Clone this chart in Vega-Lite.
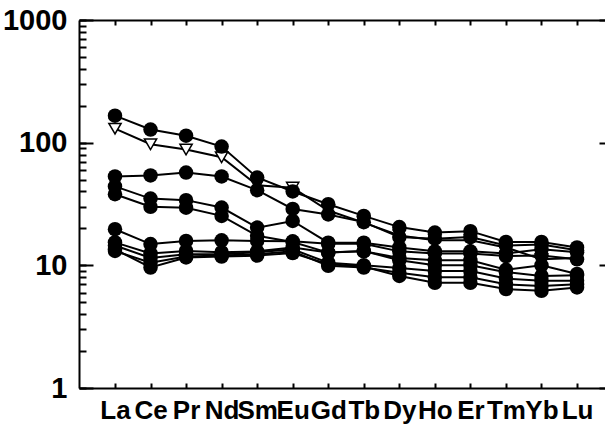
{
  "$schema": "https://vega.github.io/schema/vega-lite/v6.json",
  "width": 526,
  "height": 368,
  "autosize": {"type": "none"},
  "padding": {"left": 79, "top": 20, "right": 0, "bottom": 36},
  "background": "white",
  "config": {
    "view": {"stroke": null},
    "axis": {"tickColor": "black", "domainColor": "black", "tickWidth": 2, "domainWidth": 2, "grid": false, "title": null, "labelColor": "black"}
  },
  "data": {"values": [
    {"s":"S1","e":"La","v":166},{"s":"S1","e":"Ce","v":128},{"s":"S1","e":"Pr","v":114},{"s":"S1","e":"Nd","v":93},{"s":"S1","e":"Sm","v":52},{"s":"S1","e":"Eu","v":40},{"s":"S1","e":"Gd","v":31.5},{"s":"S1","e":"Tb","v":25.3},{"s":"S1","e":"Dy","v":20.5},{"s":"S1","e":"Ho","v":18.5},{"s":"S1","e":"Er","v":19},{"s":"S1","e":"Tm","v":15.5},{"s":"S1","e":"Yb","v":15.5},{"s":"S1","e":"Lu","v":14},
    {"s":"S2","e":"La","v":130},{"s":"S2","e":"Ce","v":97},{"s":"S2","e":"Pr","v":88},{"s":"S2","e":"Nd","v":76},{"s":"S2","e":"Sm","v":45},{"s":"S2","e":"Eu","v":43},{"s":"S2","e":"Gd","v":28},{"s":"S2","e":"Tb","v":22.3},{"s":"S2","e":"Dy","v":17.5},{"s":"S2","e":"Ho","v":16},{"s":"S2","e":"Er","v":16},{"s":"S2","e":"Tm","v":14},{"s":"S2","e":"Yb","v":11.2},{"s":"S2","e":"Lu","v":11.5},
    {"s":"S3","e":"La","v":53},{"s":"S3","e":"Ce","v":54},{"s":"S3","e":"Pr","v":57},{"s":"S3","e":"Nd","v":53},{"s":"S3","e":"Sm","v":41},{"s":"S3","e":"Eu","v":28.8},{"s":"S3","e":"Gd","v":26},{"s":"S3","e":"Tb","v":22.5},{"s":"S3","e":"Dy","v":17},{"s":"S3","e":"Ho","v":16.5},{"s":"S3","e":"Er","v":17},{"s":"S3","e":"Tm","v":14.5},{"s":"S3","e":"Yb","v":14.8},{"s":"S3","e":"Lu","v":13.3},
    {"s":"S4","e":"La","v":44},{"s":"S4","e":"Ce","v":35},{"s":"S4","e":"Pr","v":34},{"s":"S4","e":"Nd","v":29.6},{"s":"S4","e":"Sm","v":20.3},{"s":"S4","e":"Eu","v":23},{"s":"S4","e":"Gd","v":15.3},{"s":"S4","e":"Tb","v":15.3},{"s":"S4","e":"Dy","v":14},{"s":"S4","e":"Ho","v":13},{"s":"S4","e":"Er","v":13},{"s":"S4","e":"Tm","v":12.5},{"s":"S4","e":"Yb","v":13.5},{"s":"S4","e":"Lu","v":12.8},
    {"s":"S5","e":"La","v":38},{"s":"S5","e":"Ce","v":30},{"s":"S5","e":"Pr","v":29.5},{"s":"S5","e":"Nd","v":25.3},{"s":"S5","e":"Sm","v":17.4},{"s":"S5","e":"Eu","v":15.5},{"s":"S5","e":"Gd","v":12.7},{"s":"S5","e":"Tb","v":13},{"s":"S5","e":"Dy","v":11.5},{"s":"S5","e":"Ho","v":11},{"s":"S5","e":"Er","v":11},{"s":"S5","e":"Tm","v":9.2},{"s":"S5","e":"Yb","v":10},{"s":"S5","e":"Lu","v":8.5},
    {"s":"S6","e":"La","v":19.7},{"s":"S6","e":"Ce","v":14.9},{"s":"S6","e":"Pr","v":15.8},{"s":"S6","e":"Nd","v":16},{"s":"S6","e":"Sm","v":15.8},{"s":"S6","e":"Eu","v":15.7},{"s":"S6","e":"Gd","v":15},{"s":"S6","e":"Tb","v":15},{"s":"S6","e":"Dy","v":13},{"s":"S6","e":"Ho","v":12.5},{"s":"S6","e":"Er","v":12.5},{"s":"S6","e":"Tm","v":11.9},{"s":"S6","e":"Yb","v":12},{"s":"S6","e":"Lu","v":11.2},
    {"s":"S7","e":"La","v":15.4},{"s":"S7","e":"Ce","v":12.5},{"s":"S7","e":"Pr","v":13.1},{"s":"S7","e":"Nd","v":12.8},{"s":"S7","e":"Sm","v":13},{"s":"S7","e":"Eu","v":14},{"s":"S7","e":"Gd","v":12.7},{"s":"S7","e":"Tb","v":13.1},{"s":"S7","e":"Dy","v":11},{"s":"S7","e":"Ho","v":10},{"s":"S7","e":"Er","v":10},{"s":"S7","e":"Tm","v":8.8},{"s":"S7","e":"Yb","v":8.2},{"s":"S7","e":"Lu","v":8.3},
    {"s":"S8","e":"La","v":14.5},{"s":"S8","e":"Ce","v":11.5},{"s":"S8","e":"Pr","v":12.3},{"s":"S8","e":"Nd","v":12.3},{"s":"S8","e":"Sm","v":12.8},{"s":"S8","e":"Eu","v":13.5},{"s":"S8","e":"Gd","v":10.5},{"s":"S8","e":"Tb","v":10},{"s":"S8","e":"Dy","v":9.5},{"s":"S8","e":"Ho","v":9},{"s":"S8","e":"Er","v":9},{"s":"S8","e":"Tm","v":7.8},{"s":"S8","e":"Yb","v":7.5},{"s":"S8","e":"Lu","v":7.5},
    {"s":"S9","e":"La","v":13.1},{"s":"S9","e":"Ce","v":10.5},{"s":"S9","e":"Pr","v":11.8},{"s":"S9","e":"Nd","v":12},{"s":"S9","e":"Sm","v":12.3},{"s":"S9","e":"Eu","v":13},{"s":"S9","e":"Gd","v":9.9},{"s":"S9","e":"Tb","v":9.6},{"s":"S9","e":"Dy","v":8.7},{"s":"S9","e":"Ho","v":8},{"s":"S9","e":"Er","v":8},{"s":"S9","e":"Tm","v":7},{"s":"S9","e":"Yb","v":6.8},{"s":"S9","e":"Lu","v":7},
    {"s":"S10","e":"La","v":13.5},{"s":"S10","e":"Ce","v":9.6},{"s":"S10","e":"Pr","v":11.6},{"s":"S10","e":"Nd","v":11.8},{"s":"S10","e":"Sm","v":12},{"s":"S10","e":"Eu","v":12.6},{"s":"S10","e":"Gd","v":10.2},{"s":"S10","e":"Tb","v":9.8},{"s":"S10","e":"Dy","v":8.2},{"s":"S10","e":"Ho","v":7.2},{"s":"S10","e":"Er","v":7.2},{"s":"S10","e":"Tm","v":6.4},{"s":"S10","e":"Yb","v":6.2},{"s":"S10","e":"Lu","v":6.6}
  ]},
  "encoding": {
    "x": {"field": "e", "type": "nominal", "sort": ["La","Ce","Pr","Nd","Sm","Eu","Gd","Tb","Dy","Ho","Er","Tm","Yb","Lu"], "scale": {"type": "point", "padding": 0.9, "align": 0.5625}},
    "y": {"field": "v", "type": "quantitative", "scale": {"type": "log", "domain": [1, 1000], "nice": false}}
  },
  "layer": [
    {
      "mark": {"type": "line", "color": "black", "strokeWidth": 2},
      "encoding": {
        "detail": {"field": "s"},
        "x": {"field": "e", "type": "nominal", "sort": ["La","Ce","Pr","Nd","Sm","Eu","Gd","Tb","Dy","Ho","Er","Tm","Yb","Lu"], "scale": {"type": "point", "padding": 0.9, "align": 0.5625},
          "axis": {"orient": "bottom", "tickSize": -5, "labelPadding": 14, "labelFont": "Liberation Sans Narrow, Liberation Sans", "labelFontWeight": "bold", "labelFontSize": 26, "labelAngle": 0, "labelOverlap": false, "labelBound": false, "labelFlush": false}},
        "y": {"field": "v", "type": "quantitative", "scale": {"type": "log", "domain": [1, 1000], "nice": false},
          "axis": {"orient": "left", "values": [1,2,3,4,5,6,7,8,9,10,20,30,40,50,60,70,80,90,100,200,300,400,500,600,700,800,900,1000], "tickSize": -7, "labels": false}}
      }
    },
    {
      "transform": [{"filter": "datum.s == 'S2'"}],
      "mark": {"type": "point", "shape": "triangle-down", "filled": true, "fill": "white", "stroke": "black", "strokeWidth": 1.5, "size": 150, "opacity": 1},
      "encoding": {
        "x": {"field": "e", "type": "nominal", "sort": ["La","Ce","Pr","Nd","Sm","Eu","Gd","Tb","Dy","Ho","Er","Tm","Yb","Lu"], "scale": {"type": "point", "padding": 0.9, "align": 0.5625}, "axis": null},
        "y": {"field": "v", "type": "quantitative", "scale": {"type": "log", "domain": [1, 1000], "nice": false},
          "axis": {"orient": "right", "values": [1, 10, 100, 1000], "tickSize": -6, "domain": false, "labels": false}}
      }
    },
    {
      "transform": [{"filter": "datum.s != 'S2'"}],
      "mark": {"type": "point", "shape": "circle", "filled": true, "color": "black", "size": 210, "opacity": 1},
      "encoding": {
        "x": {"field": "e", "type": "nominal", "sort": ["La","Ce","Pr","Nd","Sm","Eu","Gd","Tb","Dy","Ho","Er","Tm","Yb","Lu"], "scale": {"type": "point", "padding": 0.9, "align": 0.5625},
          "axis": {"orient": "top", "tickSize": -5, "labels": false}},
        "y": {"field": "v", "type": "quantitative", "scale": {"type": "log", "domain": [1, 1000], "nice": false},
          "axis": {"orient": "left", "values": [1, 10, 100, 1000], "tickSize": -14, "domain": false, "labelPadding": 26, "labelFont": "Liberation Sans", "labelFontWeight": "bold", "labelFontSize": 29, "labelOverlap": false, "labelBound": false, "labelFlush": false, "format": "d"}}
      }
    }
  ],
  "resolve": {"axis": {"x": "independent", "y": "independent"}}
}
